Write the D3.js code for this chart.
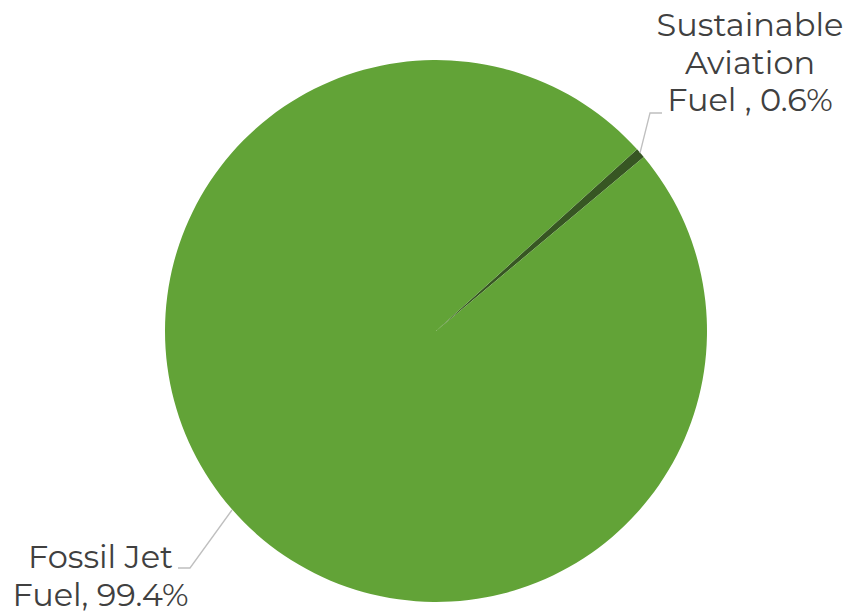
<!DOCTYPE html>
<html><head><meta charset="utf-8">
<script src="https://cdn.jsdelivr.net/npm/d3@7"></script>
<style>body{margin:0;background:#fff}svg{display:block}</style>
</head><body>
<svg id="c" width="849" height="613"></svg>
<script>
const categories = ["Sustainable Aviation Fuel ", "Fossil Jet Fuel"];
const values = [0.6, 99.4];
const labelLines = [["Sustainable", "Aviation", "Fuel , 0.6%"], ["Fossil Jet", "Fuel, 99.4%"]];
const colors = ["#375623", "#62A337"];

const svg = d3.select("#c");
const cx = 436, cy = 331, r = 271;
const start = 47.9 * Math.PI / 180;
const pie = d3.pie().sort(null).value(d => d).startAngle(start).endAngle(start + 2 * Math.PI);
const arcs = pie(values);
const arc = d3.arc().innerRadius(0).outerRadius(r);
const g = svg.append("g").attr("transform", `translate(${cx},${cy})`);
g.selectAll("path").data(arcs).join("path")
  .attr("d", arc).attr("fill", (d, i) => colors[i]).attr("stroke", "none");

// leader lines
const leaders = [
  [[640 - cx, 153 - cy], [650 - cx, 113 - cy], [662 - cx, 113 - cy]],
  [[232 - cx, 510 - cy], [190 - cx, 568 - cy], [178 - cx, 568 - cy]]
];
g.selectAll("polyline").data(leaders).join("polyline")
  .attr("points", d => d.map(p => p.join(",")).join(" "))
  .attr("fill", "none").attr("stroke", "#BFBFBF").attr("stroke-width", 1.3);

const labelPos = [{x: 750, y: 36}, {x: 100.5, y: 568}];
const font = "Montserrat, 'DejaVu Sans', sans-serif";
labelLines.forEach((lines, i) => {
  const t = svg.append("text").attr("text-anchor", "middle")
    .attr("font-family", font).attr("font-size", 32).attr("fill", "#404040");
  lines.forEach((s, j) => {
    t.append("tspan").attr("x", labelPos[i].x).attr("y", labelPos[i].y + j * 37.5).text(s);
  });
});
</script>
</body></html>
